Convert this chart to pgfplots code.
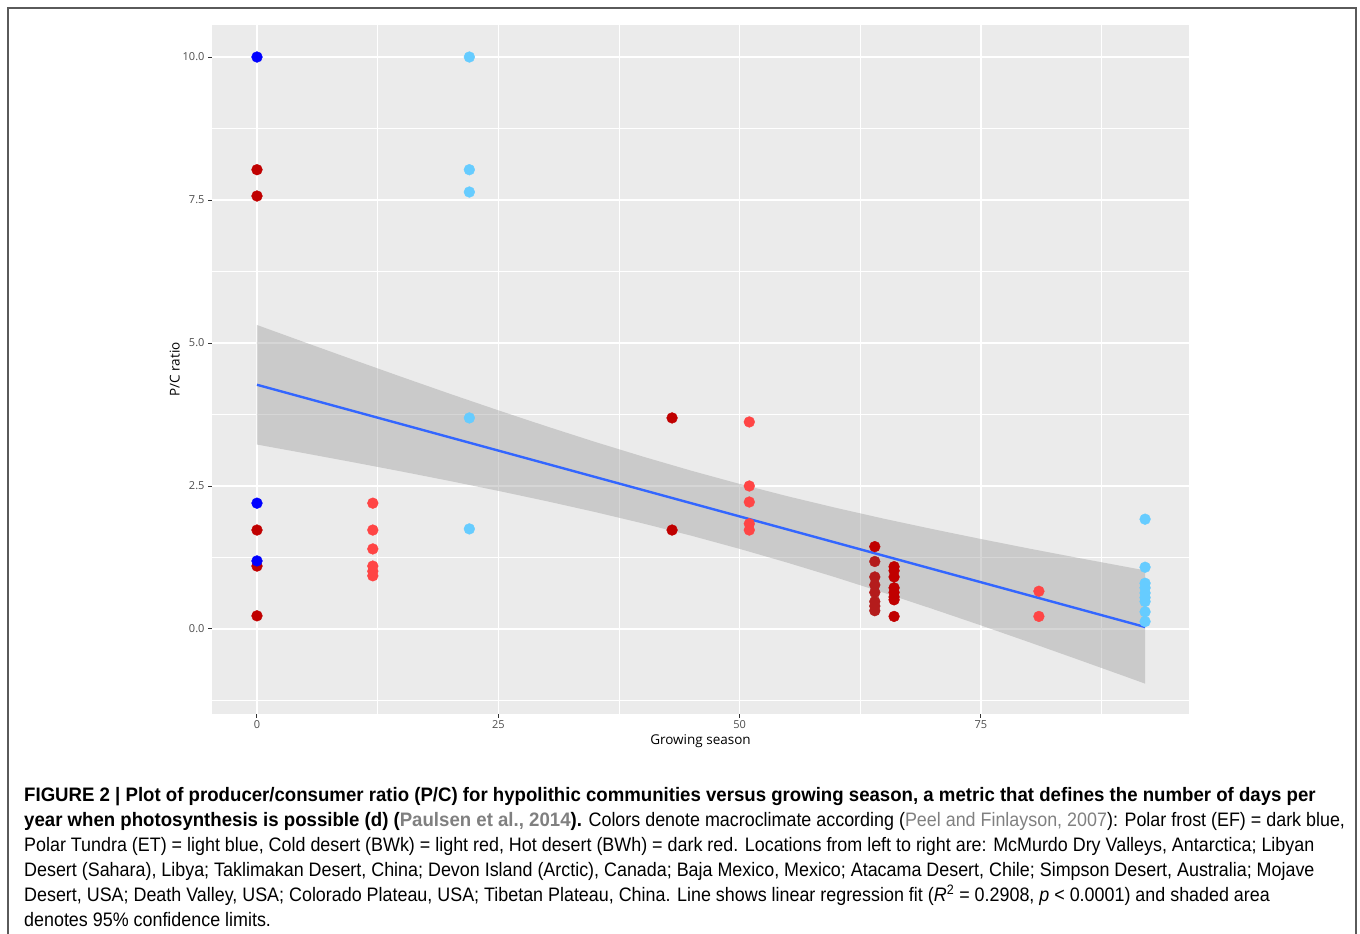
\documentclass[border=0pt]{standalone}
\usepackage{pgfplots}
\pgfplotsset{compat=1.18}
\usepackage{fontspec}
\setmainfont{Liberation Sans}
\newfontfamily\chartfont{Open Sans}
\newfontfamily\capfont[FakeStretch=0.918]{Liberation Sans}
\newfontfamily\capbold[FakeStretch=0.955]{Liberation Sans}

\definecolor{panelbg}{HTML}{EBEBEB}
\definecolor{bandgray}{HTML}{999999}
\definecolor{fitblue}{HTML}{3366FF}
\definecolor{efblue}{HTML}{0000FF}
\definecolor{bwhred}{HTML}{C00000}
\definecolor{bwhred2}{HTML}{B41C1C}
\definecolor{bwkred}{HTML}{FF4545}
\definecolor{etblue}{HTML}{66CCFF}
\definecolor{citegray}{HTML}{808080}
\definecolor{framegray}{HTML}{5A5A5A}

\newcommand{\bt}[1]{{\capbold\bfseries #1}}

\begin{document}
\begin{tikzpicture}[x=1pt,y=1pt]
\useasboundingbox (0,0) rectangle (1360,934);
% figure frame, open at the bottom
\draw[framegray, line width=1.6pt] (8,0) -- (8,926) -- (1356,926) -- (1356,0);

\begin{axis}[
    at={(212pt,220pt)}, anchor=south west,
    scale only axis,
    width=977pt, height=689pt,
    xmin=-4.66, xmax=96.55,
    ymin=-1.486, ymax=10.56,
    axis background/.style={fill=panelbg},
    axis line style={draw=none},
    xtick={0,25,50,75}, xticklabels={0,25,50,75},
    ytick={0,2.5,5,7.5,10}, yticklabels={0.0,2.5,5.0,7.5,10.0},
    minor xtick={12.5,37.5,62.5,87.5},
    minor ytick={-1.25,1.25,3.75,6.25,8.75},
    grid=both,
    major grid style={white, line width=1.6pt},
    minor grid style={white, line width=0.8pt},
    tick align=outside,
    major tick length=4pt, minor tick length=0pt,
    tick style={black!80, line width=1pt},
    xtick pos=bottom, ytick pos=left,
    tick label style={font=\chartfont\fontsize{11}{13}\selectfont, text=black!70},
    xticklabel style={yshift=1pt},
    label style={font=\chartfont\fontsize{13.5}{15}\selectfont, text=black},
    xlabel={Growing season},
    ylabel={P/C ratio},
    xlabel style={yshift=1pt},
    ylabel style={yshift=-4pt},
]
% 95% confidence band
\addplot[draw=none, fill=bandgray, fill opacity=0.4] coordinates {
  (0,5.315) (5,5.009) (10,4.706) (15,4.406) (20,4.111) (25,3.823)
  (30,3.543) (35,3.272) (40,3.013) (45,2.767) (50,2.536) (55,2.319)
  (60,2.117) (65,1.926) (70,1.746) (75,1.573) (80,1.406) (85,1.245)
  (90,1.088) (92,1.025)
  (92,-0.955) (90,-0.833) (85,-0.531) (80,-0.231) (75,0.063) (70,0.350)
  (65,0.630) (60,0.900) (55,1.157) (50,1.401) (45,1.631) (40,1.845)
  (35,2.046) (30,2.235) (25,2.415) (20,2.587) (15,2.753) (10,2.914)
  (5,3.071) (0,3.225)
} -- cycle;

% Polar frost (EF)
\addplot[only marks, mark=*, mark size=5.4pt, color=efblue] coordinates {
  (0,10.0)
};
% Polar tundra (ET)
\addplot[only marks, mark=*, mark size=5.4pt, color=etblue] coordinates {
  (22,10.0) (22,8.03) (22,7.64) (22,3.69) (22,1.75)
  (92,1.92) (92,1.08) (92,0.80) (92,0.72) (92,0.63) (92,0.55) (92,0.48) (92,0.30) (92,0.13)
};
% Cold desert (BWk)
\addplot[only marks, mark=*, mark size=5.4pt, color=bwkred] coordinates {
  (12,2.2) (12,1.73) (12,1.40) (12,1.10) (12,1.01) (12,0.93)
  (51,3.62) (51,2.5) (51,2.22) (51,1.84) (51,1.73)
  (81,0.66) (81,0.22)
};
% Hot desert (BWh)
\addplot[only marks, mark=*, mark size=5.4pt, color=bwhred] coordinates {
  (0,8.03) (0,7.57) (0,1.73) (0,1.10) (0,0.23)
  (43,3.69) (43,1.73)
  (64,1.44)
  (66,1.09) (66,1.02) (66,0.91) (66,0.72) (66,0.64) (66,0.56) (66,0.51) (66,0.22)
};
\addplot[only marks, mark=*, mark size=5.4pt, color=bwhred2] coordinates {
  (64,1.18) (64,0.91) (64,0.77) (64,0.64) (64,0.48) (64,0.40) (64,0.32)
};
% Polar frost points over the red ones at x = 0
\addplot[only marks, mark=*, mark size=5.4pt, color=efblue] coordinates {
  (0,2.2) (0,1.19)
};

% linear regression fit
\addplot[fitblue, line width=2.4pt] coordinates {(0,4.27) (92,0.035)};
\end{axis}

% caption
\begin{scope}[every node/.style={anchor=base west, inner sep=0pt,
    font=\capfont\fontsize{19.5}{25}\selectfont}]
\node at (24,132) {\bt{FIGURE 2 | Plot of producer/consumer ratio (P/C) for hypolithic communities versus growing season, a metric that defines the number of days per}};
\node at (24,107) {\bt{year when photosynthesis is possible (d) (\textcolor{citegray}{Paulsen et al., 2014}).} Colors denote macroclimate according (\textcolor{citegray}{Peel and Finlayson, 2007}): Polar frost (EF) = dark blue,};
\node at (24,82) {Polar Tundra (ET) = light blue, Cold desert (BWk) = light red, Hot desert (BWh) = dark red. Locations from left to right are: McMurdo Dry Valleys, Antarctica; Libyan};
\node at (24,57) {Desert (Sahara), Libya; Taklimakan Desert, China; Devon Island (Arctic), Canada; Baja Mexico, Mexico; Atacama Desert, Chile; Simpson Desert, Australia; Mojave};
\node at (24,32) {Desert, USA; Death Valley, USA; Colorado Plateau, USA; Tibetan Plateau, China. Line shows linear regression fit ({\itshape R}\textsuperscript{2} = 0.2908, {\itshape p} < 0.0001) and shaded area};
\node at (24,7) {denotes 95\% confidence limits.};
\end{scope}
\end{tikzpicture}
\end{document}
